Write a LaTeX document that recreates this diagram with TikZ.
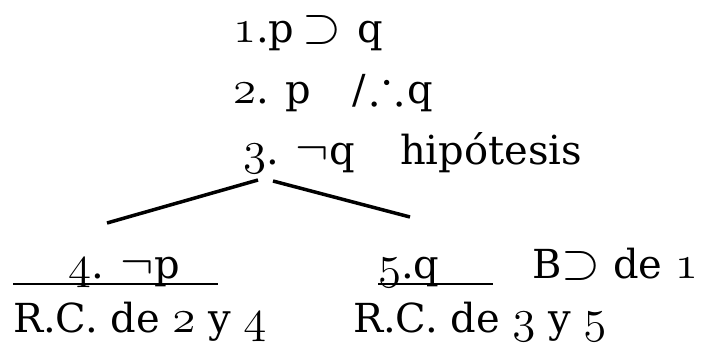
\RequirePackage{fix-cm}
\documentclass[tikz,border=0pt]{standalone}
\usepackage{amssymb}
\usepackage{fontspec}
\setmainfont{DejaVu Serif}
\newcommand\osn[1]{{\fontsize{47}{50}\selectfont$\mathnormal{#1}$}}
\newcommand\sym[1]{{\fontsize{50}{52}\selectfont$#1$}}
\tikzset{
  txt/.style={anchor=base west, inner sep=0pt, outer sep=0pt, font=\fontsize{40}{48}\selectfont},
  branch/.style={line width=3.5pt},
  uline/.style={line width=2.5pt}
}
\begin{document}
\begin{tikzpicture}[x=1pt,y=-1pt]
\useasboundingbox (0,0) rectangle (702,343);
\node[txt] (l1) at (233,42) {\osn{1}.p\hspace{8pt}\sym{\supset}\hspace{16pt}q};
\node[txt] (l2) at (233,103) {\osn{2}. p\hspace{41pt}/\hspace{5pt}\sym{\therefore}\hspace{3pt}q};
\node[txt] (l3) at (243,164) {\osn{3}. \sym{\neg}q};
\node[txt] (hyp) at (400,164) {hipótesis};
\coordinate (a1) at (258,180);
\coordinate (a2) at (107,223);
\coordinate (b1) at (273,181);
\coordinate (b2) at (410,217);
\draw[branch] (a1) -- (a2);
\draw[branch] (b1) -- (b2);
\node[txt] (l4) at (68,278) {\osn{4}. \sym{\neg}p};
\coordinate (u4a) at (13,284);
\coordinate (u4b) at (218,284);
\draw[uline] (u4a) -- (u4b);
\node[txt] (l5) at (378,278) {\osn{5}.q};
\coordinate (u5a) at (378,284);
\coordinate (u5b) at (493,284);
\draw[uline] (u5a) -- (u5b);
\node[txt] (rule5) at (532,278) {B\sym{\supset} de \osn{1}};
\node[txt] (rc4) at (13,332) {R.C. de \osn{2} y \osn{4}};
\node[txt] (rc5) at (353,332) {R.C. de \osn{3} y \osn{5}};
\end{tikzpicture}
\end{document}
